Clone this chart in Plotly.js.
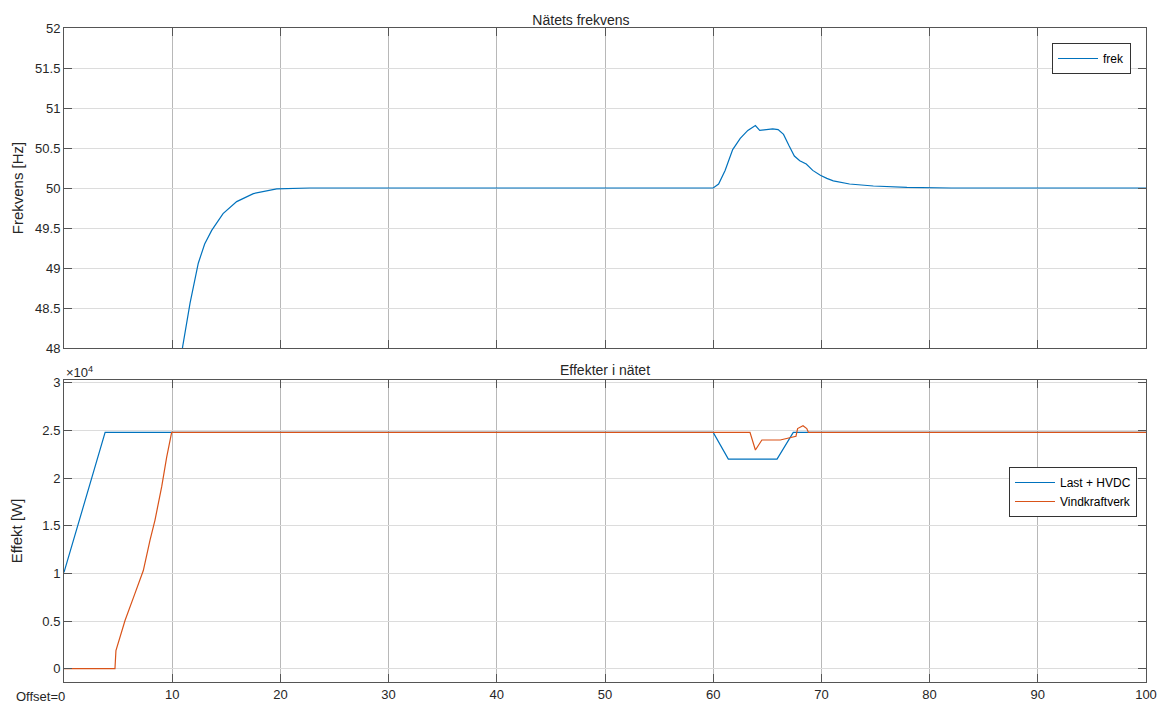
<!DOCTYPE html>
<html>
<head>
<meta charset="utf-8">
<script src="https://cdn.plot.ly/plotly-3.0.1.min.js"></script>
<style>html,body{margin:0;padding:0;background:#fff;}#chart{width:1162px;height:707px;}</style>
</head>
<body>
<div id="chart"></div>
<script>
// Top plot: grid frequency
const freqTime = [10.5, 10.97, 11.65, 12.41, 13.0, 13.65, 14.7, 15.96, 17.5, 19.66, 22.7, 25, 60, 60.5, 61.1, 61.8, 62.5, 63.2, 63.9, 64.3, 64.8, 65.5, 66.0, 66.5, 67.0, 67.5, 68.0, 68.6, 69.2, 69.9, 70.5, 71.1, 72.6, 74.8, 77.9, 82, 100];
const freqValue = [47.6, 48.02, 48.56, 49.06, 49.3, 49.47, 49.68, 49.83, 49.93, 49.99, 50.0, 50.0, 50.0, 50.05, 50.22, 50.48, 50.62, 50.72, 50.78, 50.72, 50.73, 50.74, 50.73, 50.67, 50.53, 50.4, 50.34, 50.3, 50.22, 50.16, 50.12, 50.09, 50.05, 50.025, 50.008, 50.0, 50.0];

// Bottom plot: power
const loadTime = [0, 3.8, 60, 61.4, 65.9, 67.4, 100];
const loadValue = [10100, 24800, 24800, 22000, 22000, 24800, 24800];
const windTime = [0, 4.71, 4.8, 5.0, 5.64, 6.56, 7.02, 7.33, 7.95, 8.41, 9.03, 9.49, 9.95, 63.4, 63.9, 64.5, 66.2, 67.0, 67.65, 67.8, 68.3, 68.65, 68.8, 100];
const windValue = [0, 0, 1900, 2700, 5050, 7900, 9300, 10300, 13500, 15600, 19100, 22200, 24800, 24800, 22950, 24000, 24000, 24200, 24400, 25200, 25500, 25200, 24800, 24800];

const xTicks = [0, 10, 20, 30, 40, 50, 60, 70, 80, 90, 100];
const xTickLabels = ['', '10', '20', '30', '40', '50', '60', '70', '80', '90', '100'];
const fTicks = [48, 48.5, 49, 49.5, 50, 50.5, 51, 51.5, 52];
const fTickLabels = ['48', '48.5', '49', '49.5', '50', '50.5', '51', '51.5', '52'];
const pTicks = [0, 5000, 10000, 15000, 20000, 25000, 30000];
const pTickLabels = ['0', '0.5', '1', '1.5', '2', '2.5', '3'];

const blue = '#0072BD', orange = '#D95319';
const font = 'Liberation Sans, Arial, Helvetica, sans-serif';

const traces = [
  {x: freqTime, y: freqValue, type: 'scatter', mode: 'lines', name: 'frek',
   line: {color: blue, width: 1.2}, xaxis: 'x', yaxis: 'y', legend: 'legend'},
  {x: loadTime, y: loadValue, type: 'scatter', mode: 'lines', name: 'Last + HVDC',
   line: {color: blue, width: 1.2}, xaxis: 'x2', yaxis: 'y2', legend: 'legend2'},
  {x: windTime, y: windValue, type: 'scatter', mode: 'lines', name: 'Vindkraftverk',
   line: {color: orange, width: 1.2}, xaxis: 'x2', yaxis: 'y2', legend: 'legend2'}
];

const axisCommon = {
  showline: true, linecolor: '#555', linewidth: 1, mirror: 'ticks',
  ticks: 'inside', ticklen: 8, tickcolor: '#555', zeroline: false,
  tickfont: {family: font, size: 13, color: '#262626'}
};

const layout = {
  width: 1162, height: 707,
  margin: {l: 64, r: 16, t: 28, b: 25},
  paper_bgcolor: '#fff', plot_bgcolor: '#fff',
  font: {family: font, color: '#262626'},
  title: {text: 'Nätets frekvens', font: {family: font, size: 14, color: '#262626'},
          x: 0.5, xanchor: 'center', y: 1 - 20 / 707, yanchor: 'middle'},
  xaxis: Object.assign({}, axisCommon, {
    domain: [0, 1], range: [0, 100], anchor: 'y',
    tickvals: xTicks, showticklabels: false,
    showgrid: true, gridcolor: '#b8b8b8', gridwidth: 1
  }),
  yaxis: Object.assign({}, axisCommon, {
    domain: [(682 - 348) / 654, 1], range: [48, 52], anchor: 'x',
    tickvals: fTicks, ticktext: fTickLabels,
    showgrid: true, gridcolor: '#dcdcdc', gridwidth: 1,
    title: {text: 'Frekvens [Hz]', font: {family: font, size: 15, color: '#262626'}, standoff: 7}
  }),
  xaxis2: Object.assign({}, axisCommon, {
    domain: [0, 1], range: [0, 100], anchor: 'y2',
    tickvals: xTicks, ticktext: xTickLabels,
    showgrid: true, gridcolor: '#b8b8b8', gridwidth: 1
  }),
  yaxis2: Object.assign({}, axisCommon, {
    domain: [0, (682 - 380) / 654], range: [-1400, 30300], anchor: 'x2',
    tickvals: pTicks, ticktext: pTickLabels,
    showgrid: true, gridcolor: '#dcdcdc', gridwidth: 1,
    title: {text: 'Effekt [W]', font: {family: font, size: 15, color: '#262626'}, standoff: 16}
  }),
  showlegend: true,
  legend: {x: (1131 - 64) / 1082, y: (682 - 43) / 654, xanchor: 'right', yanchor: 'top',
           bgcolor: '#fff', bordercolor: '#333', borderwidth: 1, itemwidth: 40,
           font: {family: font, size: 12, color: '#000'}},
  legend2: {x: (1137 - 64) / 1082, y: (682 - 467) / 654, xanchor: 'right', yanchor: 'top',
            bgcolor: '#fff', bordercolor: '#333', borderwidth: 1, itemwidth: 40,
            font: {family: font, size: 12, color: '#000'}},
  annotations: [
    {text: 'Effekter i nätet', xref: 'paper', yref: 'paper', x: 0.5, y: (682 - 370) / 654,
     xanchor: 'center', yanchor: 'middle', showarrow: false,
     font: {family: font, size: 14, color: '#262626'}},
    {text: '×10<sup>4</sup>', xref: 'paper', yref: 'paper', x: 0, y: (682 - 372) / 654,
     xanchor: 'left', yanchor: 'middle', showarrow: false,
     font: {family: font, size: 13, color: '#262626'}},
    {text: 'Offset=0', xref: 'paper', yref: 'paper', x: (40 - 64) / 1082, y: (682 - 696) / 654,
     xanchor: 'center', yanchor: 'middle', showarrow: false,
     font: {family: font, size: 13, color: '#262626'}}
  ]
};

Plotly.newPlot('chart', traces, layout, {displayModeBar: false, staticPlot: true});
</script>
</body>
</html>
